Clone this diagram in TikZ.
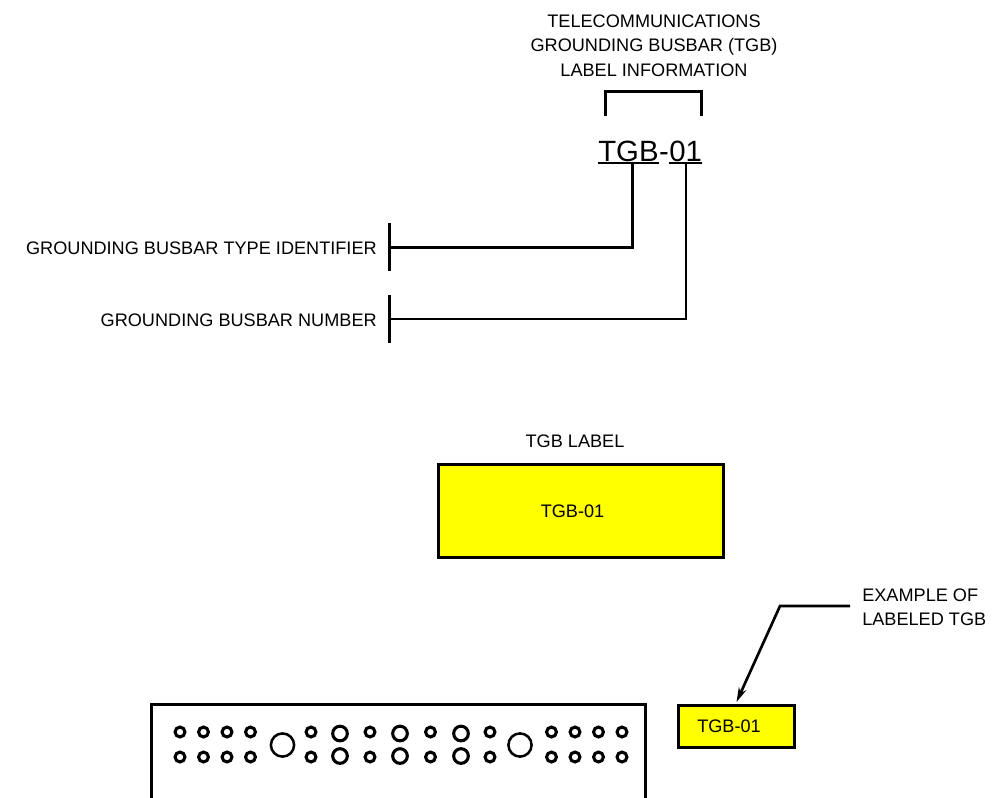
\documentclass[tikz,border=0pt]{standalone}
\usepackage{fontspec}
\setmainfont{Liberation Sans}
\usetikzlibrary{arrows.meta}
\definecolor{ybright}{RGB}{255,255,0}
\begin{document}
\begin{tikzpicture}[x=0.75pt,y=-0.75pt,
  txt/.style={font=\fontsize{13.6}{18.2}\selectfont, inner sep=0pt},
  bigtxt/.style={font=\fontsize{22}{26}\selectfont, inner sep=0pt},
  thk/.style={line width=2.25pt},
  thn/.style={line width=1.5pt},
  ybox/.style={draw, fill=ybright, line width=2.25pt, inner sep=0pt, font=\fontsize{13.6}{16}\selectfont},
  hole/.style={line width=2.3pt}]
\clip (0,0) rectangle (993,797);

% title
\node[txt, align=center] (title) at (654,45.5) {TELECOMMUNICATIONS\\GROUNDING BUSBAR (TGB)\\LABEL INFORMATION};
% bracket
\coordinate (bl) at (605,116);
\coordinate (br) at (701,116);
\draw[thk] (bl) |- (701,91) -- (br);

% big TGB-01
\node[bigtxt, anchor=base west] (tgb) at (598,161) {TGB};
\node[bigtxt, anchor=base west] (dash) at (tgb.base east) {-};
\node[bigtxt, anchor=base west] (num) at (dash.base east) {01};
\draw[thn] ([yshift=-1.6pt]tgb.base west) -- ([yshift=-1.6pt]tgb.base east);
\draw[thn] ([yshift=-1.6pt]num.base west) -- ([yshift=-1.6pt]num.base east);

% identifiers
\coordinate (u1) at (632,163);
\coordinate (u2) at (686,163);
\coordinate (t1) at (389,247);
\coordinate (t2) at (389,319);
\node[txt, anchor=east] (typeid) at (377,248) {GROUNDING BUSBAR TYPE IDENTIFIER};
\node[txt, anchor=east] (number) at (377,320.5) {GROUNDING BUSBAR NUMBER};
\draw[thk] (389,223) -- (389,271);
\draw[thk] (389,295) -- (389,343);
\draw[thk] (u1) |- (t1);
\draw[thn] (u2) |- (t2);

% TGB label box
\node[txt] (lbltitle) at (575,441) {TGB LABEL};
\node[ybox, minimum width=213.75pt, minimum height=69.75pt] (bigbox) at (581,511) {TGB-01\hspace*{12.75pt}};

% busbar
\draw[thk] (151.5,805) |- (645.5,704.5) -- (645.5,805);
\foreach \x in {180,203.5,227,250.5,311,370,430.5,490,551.5,575,598.5,622}{
  \draw[hole] (\x,732) circle [radius=3.7pt];
  \draw[hole] (\x,757) circle [radius=3.7pt];
}
\foreach \x in {340,400,461}{
  \draw[hole] (\x,733.5) circle [radius=5.5pt];
  \draw[hole] (\x,756) circle [radius=5.5pt];
}
\foreach \x in {282.5,520}{
  \draw[line width=1.9pt] (\x,745) circle [radius=8.7pt];
}

% example
\node[ybox, minimum width=87pt, minimum height=31.5pt] (smallbox) at (736.5,726.5) {TGB-01\hspace*{11.25pt}};
\node[txt, anchor=west, align=left] (example) at (862,607) {EXAMPLE OF\\LABELED TGB};
\coordinate (a0) at (850,606);
\draw[line width=2pt, -{Stealth[length=11pt,width=6pt]}] (a0) -- (780,606) -- ([yshift=1.5pt]smallbox.north);
\end{tikzpicture}
\end{document}
